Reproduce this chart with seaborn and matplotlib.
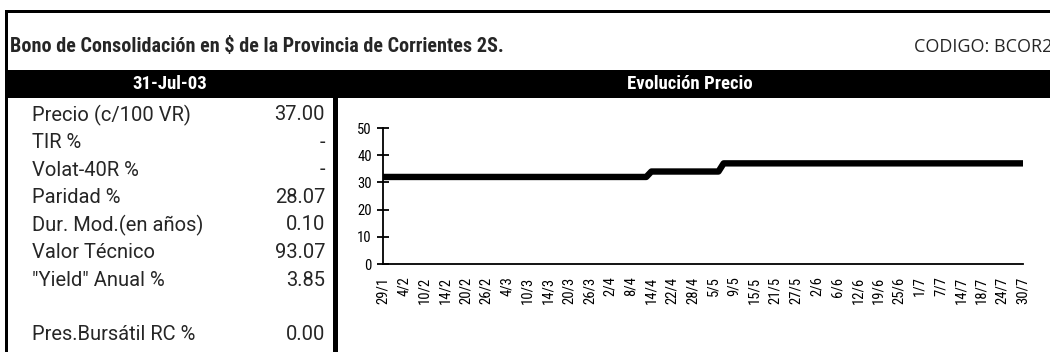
import matplotlib
matplotlib.use("Agg")
import matplotlib.pyplot as plt
from matplotlib.patches import Rectangle
import seaborn as sns
import pandas as pd

# Daily closing price (c/100 VR), 29/1 to 30/7
prices = [
    32.0, 32.0, 32.0, 32.0, 32.0, 32.0, 32.0, 32.0, 32.0, 32.0, 32.0, 32.0, 32.0,
    32.0, 32.0, 32.0, 32.0, 32.0, 32.0, 32.0, 32.0, 32.0, 32.0, 32.0, 32.0, 32.0,
    32.0, 32.0, 32.0, 32.0, 32.0, 32.0, 32.0, 32.0, 32.0, 32.0, 32.0, 32.0, 32.0,
    32.0, 32.0, 32.0, 32.0, 32.0, 32.0, 32.0, 32.0, 32.0, 32.0, 32.0, 32.0, 32.0,
    34.0, 34.0, 34.0, 34.0, 34.0, 34.0, 34.0, 34.0, 34.0, 34.0, 34.0, 34.0, 34.0,
    34.0,
    37.0, 37.0, 37.0, 37.0, 37.0, 37.0, 37.0, 37.0, 37.0, 37.0, 37.0, 37.0, 37.0,
    37.0, 37.0, 37.0, 37.0, 37.0, 37.0, 37.0, 37.0, 37.0, 37.0, 37.0, 37.0, 37.0,
    37.0, 37.0, 37.0, 37.0, 37.0, 37.0, 37.0, 37.0, 37.0, 37.0, 37.0, 37.0, 37.0,
    37.0, 37.0, 37.0, 37.0, 37.0, 37.0, 37.0, 37.0, 37.0, 37.0, 37.0, 37.0, 37.0,
    37.0, 37.0, 37.0, 37.0, 37.0, 37.0, 37.0,
]

date_labels = [
    "29/1", "4/2", "10/2", "14/2", "20/2", "26/2", "4/3", "10/3", "14/3",
    "20/3", "26/3", "2/4", "8/4", "14/4", "22/4", "28/4", "5/5", "9/5",
    "15/5", "21/5", "27/5", "2/6", "6/6", "12/6", "19/6", "25/6", "1/7",
    "7/7", "14/7", "18/7", "24/7", "30/7",
]
label_step = 4

y_ticks = [0, 10, 20, 30, 40, 50]

stat_names = [
    "Precio (c/100 VR)", "TIR %", "Volat-40R %", "Paridad %",
    "Dur. Mod.(en años)", "Valor Técnico", "\"Yield\" Anual %", "",
    "Pres.Bursátil RC %",
]
stat_values = ["37.00", "-", "-", "28.07", "0.10", "93.07", "3.85", "", "0.00"]

title = "Bono de Consolidación en $ de la Provincia de Corrientes 2S."
code_text = "CODIGO: BCOR2"
date_header = "31-Jul-03"
chart_header = "Evolución Precio"

sns.set_theme(style="white")
NARROW = ["Roboto Condensed", "DejaVu Sans"]
plt.rcParams["font.family"] = NARROW

W, H = 1050, 352
fig = plt.figure(figsize=(W / 100, H / 100), dpi=100)
fig.patch.set_facecolor("white")


def px(x, y):
    """Pixel coordinates (from top-left) to figure fraction."""
    return x / W, 1 - y / H


def frame_rect(x0, y0, x1, y1, color="black"):
    fx0, fy1 = px(x0, y1)
    fig.add_artist(Rectangle((fx0, fy1), (x1 - x0) / W, (y1 - y0) / H,
                             transform=fig.transFigure, facecolor=color,
                             edgecolor="none", zorder=0))


# sheet frame: top rule, left rule, header band and column separator
frame_rect(5, 10, W, 13)
frame_rect(5, 10, 8, H)
frame_rect(8, 70, W, 98)
frame_rect(333, 98, 338, H)

# titles
fig.text(*px(10, 46), title, fontsize=14.5, fontweight="bold",
         va="center", ha="left", family=NARROW)
fig.text(*px(914, 47), code_text, fontsize=13, va="center", ha="left",
         family=["Open Sans", "DejaVu Sans"])
fig.text(*px(170, 84), date_header, fontsize=13.5, fontweight="bold",
         color="white", va="center", ha="center", family=NARROW)
fig.text(*px(690, 84), chart_header, fontsize=13.5, fontweight="bold",
         color="white", va="center", ha="center", family=NARROW)

# statistics table
row_y0, row_h = 115, 27.5
table_font = ["Roboto", "DejaVu Sans"]
for i, (name, val) in enumerate(zip(stat_names, stat_values)):
    y = row_y0 + i * row_h
    if name:
        fig.text(*px(32, y), name, fontsize=14.5, va="center", ha="left",
                 family=table_font)
    if val:
        fig.text(*px(325, y), val, fontsize=14.5, va="center", ha="right",
                 family=table_font)

# price chart
ax_left, ax_right, ax_top, ax_bottom = 383, 1023, 128, 264
ax = fig.add_axes([ax_left / W, (H - ax_bottom) / H,
                   (ax_right - ax_left) / W, (ax_bottom - ax_top) / H])
ax.set_facecolor("none")

df = pd.DataFrame({"dia": range(len(prices)), "precio": prices})
sns.lineplot(data=df, x="dia", y="precio", ax=ax, color="black",
             linewidth=4.6, solid_joinstyle="round", solid_capstyle="butt")

ax.set_xlim(0, len(prices) - 1)
ax.set_ylim(0, 50)
ax.set_xlabel("")
ax.set_ylabel("")
for side in ("top", "right"):
    ax.spines[side].set_visible(False)
for side in ("left", "bottom"):
    ax.spines[side].set_color("black")
    ax.spines[side].set_linewidth(1.3)

tick_pos = list(range(0, len(prices), label_step))
ax.set_xticks(tick_pos)
ax.set_xticklabels(date_labels, rotation=90, fontsize=10.5, va="top", ha="center")
ax.set_yticks(y_ticks)
ax.set_yticklabels([str(v) for v in y_ticks], fontsize=10.5)
ax.tick_params(axis="x", length=0, pad=9, colors="black")
ax.tick_params(axis="y", direction="inout", length=9, width=1.3, pad=3.5,
               colors="black", left=True)

fig.savefig("out.png", dpi=100, facecolor="white")
